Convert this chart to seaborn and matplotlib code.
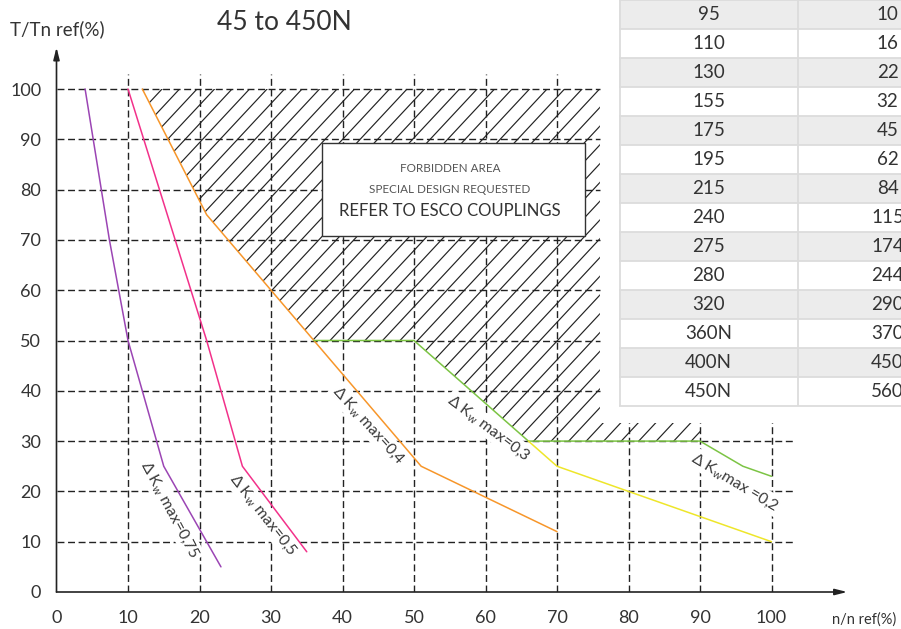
import numpy as np
import matplotlib.pyplot as plt
from matplotlib.patches import Rectangle
from matplotlib.collections import LineCollection
import seaborn as sns

# torque limit curves, n/n ref (%) against T/Tn ref (%)
purple_x = [4, 7.4, 10, 15, 23]
purple_y = [100, 70, 50, 25, 5]
pink_x = [10, 21, 26, 35]
pink_y = [100, 50, 25, 8]
orange_x = [12, 21, 36, 51, 70]
orange_y = [100, 75, 50, 25, 12]
green_x = [36, 50, 66, 90, 96, 100]
green_y = [50, 50, 30, 30, 25, 23]
yellow_x = [66, 70, 100]
yellow_y = [30, 25, 10]

# forbidden (hatched) area outline
forbid_x = [12, 76, 76, 90, 90, 66, 50, 36, 21]
forbid_y = [100, 100, 33.6, 33.6, 30, 30, 50, 50, 75]

# curve labels: text, x, y, angle
curve_labels = [
    ('Δ $\\mathrm{K_w}$ max=0,75', 15.9, 16.3, -62),
    ('Δ $\\mathrm{K_w}$ max=0,5', 28.9, 15.3, -52),
    ('Δ $\\mathrm{K_w}$ max=0,4', 43.6, 33.2, -48),
    ('Δ $\\mathrm{K_w}$ max=0,3', 60.5, 32.6, -37),
    ('Δ $\\mathrm{K_w}$max =0,2', 94.9, 21.9, -31),
]

x_ticks = list(range(0, 101, 10))
y_ticks = list(range(0, 101, 10))

# size table on the right
size_col = ['95', '110', '130', '155', '175', '195', '215', '240', '275',
            '280', '320', '360N', '400N', '450N']
value_col = ['10', '16', '22', '32', '45', '62', '84', '115', '174',
             '244', '290', '370', '450', '560']

sns.set_theme(style='white')
plt.rcParams['font.family'] = ['Lato', 'DejaVu Sans']
plt.rcParams['mathtext.fontset'] = 'custom'
plt.rcParams['mathtext.rm'] = 'Lato'
plt.rcParams['mathtext.it'] = 'Lato:italic'
txt = '#333333'

fig = plt.figure(figsize=(9.01, 6.29), dpi=100)
W, H = 901, 629
ax_w, ax_h = 822.25, 553.3
ax = fig.add_axes([56.5 / W, 37 / H, ax_w / W, ax_h / H])
ax.set_xlim(0, 115)
ax.set_ylim(0, 110)
for s in ax.spines.values():
    s.set_visible(False)

dash = (0, (5, 2.6))
ax.vlines(x_ticks[1:], 0, 103, colors='#222222', linestyles=dash, lw=1, zorder=1)
ax.hlines([y for y in y_ticks[1:] if y >= 40], 0, 76, colors='#222222',
          linestyles=dash, lw=1, zorder=1)
ax.hlines([y for y in y_ticks[1:] if y < 40], 0, 103.3, colors='#222222',
          linestyles=dash, lw=1, zorder=1)

# hatched forbidden area: diagonal lines clipped to the outline
area = ax.fill(forbid_x, forbid_y, facecolor='none', lw=0, zorder=1.5)[0]
sx, sy = ax_w / 115, ax_h / 110
slope = np.tan(np.radians(47)) * sx / sy
step = 17.5 / sx
segs = [[(c, 0), (c + 110 / slope, 110)] for c in np.arange(-90, 100, step)]
hatch = LineCollection(segs, colors='#222222', lw=0.85, zorder=1.5)
ax.add_collection(hatch)
hatch.set_clip_path(area)

curves = [(purple_x, purple_y, '#9b45b4'), (pink_x, pink_y, '#f2318a'),
          (orange_x, orange_y, '#f7962a'), (green_x, green_y, '#7cc444'),
          (yellow_x, yellow_y, '#eee62a')]
for cx, cy, col in curves:
    sns.lineplot(x=cx, y=cy, ax=ax, color=col, lw=1.1, sort=False,
                 estimator=None, zorder=5)

for label, lx, ly, ang in curve_labels:
    ax.text(lx, ly, label, rotation=ang, ha='center', va='center',
            fontsize=11.3, color='#3a3a3a', zorder=4, rotation_mode='anchor',
            bbox=dict(facecolor='white', edgecolor='none', pad=1.5))

# note box
ax.add_patch(Rectangle((37.1, 70.8), 36.8, 18.5, facecolor='white',
                       edgecolor='#333333', lw=1, zorder=3))
ax.text(55, 84.1, 'FORBIDDEN AREA', ha='center', va='center', fontsize=8.4,
        color='#555555', zorder=4)
ax.text(55, 80.1, 'SPECIAL DESIGN REQUESTED', ha='center', va='center',
        fontsize=8.4, color='#555555', zorder=4)
ax.text(55, 75.8, 'REFER TO ESCO COUPLINGS', ha='center', va='center',
        fontsize=12, color=txt, zorder=4)

# axes with arrows
ax.annotate('', xy=(110.6, 0), xytext=(0, 0), annotation_clip=False,
            arrowprops=dict(arrowstyle='-|>,head_length=0.6,head_width=0.15',
                            color='#222222', lw=1.2, shrinkA=0, shrinkB=0))
ax.annotate('', xy=(0, 108.3), xytext=(0, 0), annotation_clip=False,
            arrowprops=dict(arrowstyle='-|>,head_length=0.6,head_width=0.15',
                            color='#222222', lw=1.2, shrinkA=0, shrinkB=0))

ax.set_xticks(x_ticks)
ax.set_yticks(y_ticks)
ax.set_xticklabels([str(v) for v in x_ticks])
ax.set_yticklabels([str(v) for v in y_ticks])
ax.tick_params(axis='x', length=0, pad=13, labelsize=13, labelcolor=txt)
ax.tick_params(axis='y', length=0, pad=11, labelsize=13, labelcolor=txt)

fig.text(284 / W, 1 - 22 / H, '45 to 450N', ha='center', va='center',
         fontsize=19, color=txt)
fig.text(57 / W, 1 - 29 / H, 'T/Tn ref(%)', ha='center', va='center',
         fontsize=13.5, color=txt)
fig.text(864 / W, 1 - 620 / H, 'n/n ref(%)', ha='center', va='center',
         fontsize=10.5, color=txt)

# table, partly outside the figure like the reference
tab = fig.add_axes([619 / W, 1 - 423 / H, 358 / W, 423 / H], zorder=10)
tab.set_facecolor('white')
tab.set_xlim(0, 2)
tab.set_ylim(423 / 29, 0)
rows = np.arange(len(size_col))
fills = ['#ececec' if i % 2 == 0 else 'white' for i in rows]
tab.barh(rows + 0.5, 2, height=1, left=0, color=fills, edgecolor='none')
tab.hlines(np.arange(len(size_col) + 1), 0, 2, colors='#dcdcdc', lw=1.3)
tab.vlines([0.004, 1], 0, len(size_col), colors='#dcdcdc', lw=1.3)
for i in rows:
    tab.text(0.5, i + 0.5, size_col[i], ha='center', va='center',
             fontsize=13.5, color=txt)
    tab.text(1.5, i + 0.5, value_col[i], ha='center', va='center',
             fontsize=13.5, color=txt)
tab.set_xticks([])
tab.set_yticks([])
for s in tab.spines.values():
    s.set_visible(False)

fig.savefig('out.png', dpi=100)
